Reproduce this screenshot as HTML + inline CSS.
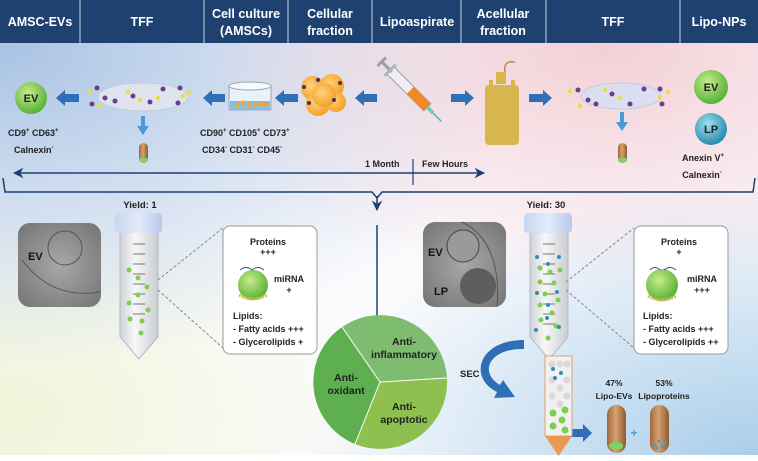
<!DOCTYPE html>
<html><head><meta charset="utf-8"><style>
html,body{margin:0;padding:0;background:#fff}
svg{display:block;font-family:"Liberation Sans",sans-serif;font-weight:bold}
</style></head><body>
<svg width="758" height="461" viewBox="0 0 758 461" xmlns="http://www.w3.org/2000/svg">
<defs>
<radialGradient id="bl" cx="0" cy="0.1" r="0.7"><stop offset="0" stop-color="#a9c3e4"/><stop offset="1" stop-color="#a9c3e4" stop-opacity="0"/></radialGradient>
<radialGradient id="pk" cx="0.8" cy="0.1" r="0.55"><stop offset="0" stop-color="#f3cfd6"/><stop offset="1" stop-color="#f3cfd6" stop-opacity="0"/></radialGradient>
<radialGradient id="br" cx="1" cy="1" r="0.6"><stop offset="0" stop-color="#a8cdea"/><stop offset="1" stop-color="#a8cdea" stop-opacity="0"/></radialGradient>
<radialGradient id="yl" cx="0" cy="0.9" r="0.5"><stop offset="0" stop-color="#f1f4d8"/><stop offset="1" stop-color="#f1f4d8" stop-opacity="0"/></radialGradient>
<radialGradient id="gEV" cx="0.4" cy="0.35" r="0.7"><stop offset="0" stop-color="#c8ec8a"/><stop offset="1" stop-color="#4fae34"/></radialGradient>
<radialGradient id="gLP" cx="0.4" cy="0.35" r="0.7"><stop offset="0" stop-color="#9fe0ec"/><stop offset="1" stop-color="#1f86a8"/></radialGradient>
<radialGradient id="cell" cx="0.4" cy="0.4" r="0.7"><stop offset="0" stop-color="#ffd27a"/><stop offset="1" stop-color="#f09a1c"/></radialGradient>
<radialGradient id="em" cx="0.5" cy="0.5" r="0.7"><stop offset="0" stop-color="#a8a8a8"/><stop offset="1" stop-color="#747474"/></radialGradient>
<linearGradient id="cap" x1="0" x2="1"><stop offset="0" stop-color="#c8d6f0"/><stop offset="0.5" stop-color="#e4ebfa"/><stop offset="1" stop-color="#b9c9ea"/></linearGradient>
<linearGradient id="tube" x1="0" x2="1"><stop offset="0" stop-color="#cfd3d8"/><stop offset="0.4" stop-color="#f7f7f7"/><stop offset="1" stop-color="#c9cdd2"/></linearGradient>
<linearGradient id="caps" x1="0" x2="1"><stop offset="0" stop-color="#9c6a3a"/><stop offset="0.45" stop-color="#d9a070"/><stop offset="1" stop-color="#8d5c30"/></linearGradient>
<marker id="ah" viewBox="0 0 10 10" refX="9" refY="5" markerWidth="7" markerHeight="7" orient="auto-start-reverse"><path d="M0,0L10,5L0,10L3,5z" fill="#1f3f73"/></marker>
</defs>
<rect width="758" height="461" fill="#fbfbfd"/>
<rect width="758" height="461" fill="url(#yl)"/>
<rect width="758" height="461" fill="url(#bl)"/>
<rect width="758" height="461" fill="url(#pk)"/>
<rect width="758" height="461" fill="url(#br)"/>
<rect y="455" width="758" height="6" fill="#fff"/>
<!-- header -->
<rect x="0" y="0" width="758" height="43" fill="#1e4170"/>
<g stroke="#c9d3e2" stroke-width="1"><line x1="80" y1="0" x2="80" y2="43"/><line x1="204" y1="0" x2="204" y2="43"/><line x1="288" y1="0" x2="288" y2="43"/><line x1="372" y1="0" x2="372" y2="43"/><line x1="461" y1="0" x2="461" y2="43"/><line x1="546" y1="0" x2="546" y2="43"/><line x1="680" y1="0" x2="680" y2="43"/></g>
<g fill="#fff" font-size="12.5" text-anchor="middle">
<text x="40" y="26">AMSC-EVs</text><text x="142" y="26">TFF</text>
<text x="246" y="18">Cell culture</text><text x="246" y="35">(AMSCs)</text>
<text x="330" y="18">Cellular</text><text x="330" y="35">fraction</text>
<text x="417" y="26">Lipoaspirate</text>
<text x="503" y="18">Acellular</text><text x="503" y="35">fraction</text>
<text x="613" y="26">TFF</text><text x="719" y="26">Lipo-NPs</text>
</g>
<!-- arrows blue block -->
<g fill="#2e6fb8">
<path d="M56,98 l9,-8 v4 h14 v8 h-14 v4z"/>
<path d="M203,98 l9,-8 v4 h13 v8 h-13 v4z"/>
<path d="M275,98 l9,-8 v4 h14 v8 h-14 v4z"/>
<path d="M355,98 l9,-8 v4 h13 v8 h-13 v4z"/>
<path d="M474,98 l-9,-8 v4 h-14 v8 h14 v4z"/>
<path d="M552,98 l-9,-8 v4 h-14 v8 h14 v4z"/>
<path d="M592,433 l-9,-9 v5 h-16 v8 h16 v5z"/>
</g>
<g fill="#4a9ad8"><path d="M141,116h4v10h4l-6,9l-6,-9h4z"/><path d="M620,112h4v10h4l-6,9l-6,-9h4z"/></g>
<!-- EV top left -->
<circle cx="31" cy="98" r="16" fill="url(#gEV)"/><text x="31" y="102" font-size="11" text-anchor="middle" fill="#222">EV</text>
<!-- TFF ellipses -->
<ellipse cx="143" cy="97" rx="45" ry="14" fill="#dfe3ee" stroke="#c4cbdb"/>
<ellipse cx="621" cy="96" rx="40" ry="13" fill="#d9dff0" stroke="#c4cbdb"/>
<g fill="#6a3d8f"><circle cx="97" cy="88" r="2.5"/><circle cx="105" cy="98" r="2.5"/><circle cx="115" cy="101" r="2.5"/><circle cx="133" cy="96" r="2.5"/><circle cx="163" cy="89" r="2.5"/><circle cx="180" cy="88" r="2.5"/><circle cx="178" cy="103" r="2.5"/><circle cx="150" cy="102" r="2.5"/><circle cx="92" cy="104" r="2.5"/>
<circle cx="578" cy="90" r="2.5"/><circle cx="588" cy="100" r="2.5"/><circle cx="596" cy="104" r="2.5"/><circle cx="612" cy="94" r="2.5"/><circle cx="644" cy="89" r="2.5"/><circle cx="660" cy="89" r="2.5"/><circle cx="662" cy="104" r="2.5"/><circle cx="630" cy="104" r="2.5"/></g>
<g fill="#e8e03a"><circle cx="90" cy="92" r="2.2"/><circle cx="100" cy="106" r="2.2"/><circle cx="128" cy="92" r="2.2"/><circle cx="140" cy="100" r="2.2"/><circle cx="158" cy="98" r="2.2"/><circle cx="183" cy="96" r="2.2"/><circle cx="189" cy="92" r="2.2"/>
<circle cx="570" cy="91" r="2.2"/><circle cx="580" cy="106" r="2.2"/><circle cx="605" cy="90" r="2.2"/><circle cx="620" cy="98" r="2.2"/><circle cx="660" cy="97" r="2.2"/><circle cx="668" cy="92" r="2.2"/></g>
<!-- tubes small -->
<rect x="139" y="143" width="9" height="20" rx="4.5" fill="url(#caps)"/><rect x="139" y="158" width="9" height="4" rx="2" fill="#7bd36a"/>
<rect x="618" y="143" width="9" height="20" rx="4.5" fill="url(#caps)"/><rect x="618" y="158" width="9" height="4" rx="2" fill="#7bd36a"/>
<!-- petri -->
<rect x="229" y="86" width="42" height="24" fill="#e9f2fa" stroke="#9aa6b2"/><ellipse cx="250" cy="86" rx="21" ry="4" fill="#f7fbff" stroke="#9aa6b2"/>
<rect x="230" y="101" width="40" height="9" fill="#7fc2e6"/>
<g fill="#f3a33a"><circle cx="237" cy="105" r="2.5"/><circle cx="243" cy="103" r="2.5"/><circle cx="249" cy="106" r="2.5"/><circle cx="255" cy="104" r="2.5"/><circle cx="261" cy="105" r="2.5"/><circle cx="266" cy="104" r="2.5"/></g>
<!-- cells -->
<g fill="url(#cell)"><circle cx="313" cy="88" r="12"/><circle cx="332" cy="86" r="12"/><circle cx="318" cy="104" r="12"/><circle cx="336" cy="102" r="10"/><circle cx="324" cy="95" r="12"/></g>
<g fill="#4a2f5c"><circle cx="304" cy="87" r="2"/><circle cx="318" cy="80" r="2"/><circle cx="340" cy="83" r="2"/><circle cx="309" cy="103" r="2"/><circle cx="334" cy="100" r="2"/></g>
<!-- syringe -->
<g transform="translate(416,96) rotate(45)">
<rect x="-36" y="-5" width="52" height="10" fill="#eef0f3" stroke="#9aa0a8"/>
<rect x="-8" y="-5" width="24" height="10" fill="#f08a28"/>
<rect x="-48" y="-1.5" width="14" height="3" fill="#9aa0a8"/><rect x="-50" y="-6" width="3" height="12" fill="#9aa0a8"/>
<rect x="-38" y="-8" width="3" height="16" fill="#b0b5bc"/>
<rect x="16" y="-2" width="8" height="4" fill="#7acfc0"/><line x1="24" y1="0" x2="36" y2="0" stroke="#4db8b0" stroke-width="1.5"/>
</g>
<!-- bag -->
<path d="M505,72 q-2,-12 10,-10" fill="none" stroke="#b88b4a" stroke-width="1.5"/>
<rect x="496" y="72" width="10" height="12" fill="#d8b64e"/>
<rect x="489" y="80" width="4" height="8" fill="#d8b64e"/><rect x="511" y="80" width="4" height="8" fill="#d8b64e"/>
<rect x="485" y="85" width="34" height="60" rx="4" fill="#d8b64e"/>
<!-- EV / LP right -->
<circle cx="711" cy="87" r="17" fill="url(#gEV)"/><text x="711" y="91" font-size="11" text-anchor="middle" fill="#222">EV</text>
<circle cx="711" cy="129" r="16" fill="url(#gLP)"/><text x="711" y="133" font-size="11" text-anchor="middle" fill="#222">LP</text>
<!-- marker texts -->
<g font-size="9" fill="#222">
<text x="8" y="136">CD9<tspan dy="-4" font-size="6">+</tspan><tspan dy="4"> CD63</tspan><tspan dy="-4" font-size="6">+</tspan></text>
<text x="14" y="153">Calnexin<tspan dy="-4" font-size="6">-</tspan></text>
<text x="200" y="136">CD90<tspan dy="-4" font-size="6">+</tspan><tspan dy="4"> CD105</tspan><tspan dy="-4" font-size="6">+</tspan><tspan dy="4"> CD73</tspan><tspan dy="-4" font-size="6">+</tspan></text>
<text x="202" y="153">CD34<tspan dy="-4" font-size="6">-</tspan><tspan dy="4">   CD31</tspan><tspan dy="-4" font-size="6">-</tspan><tspan dy="4">  CD45</tspan><tspan dy="-4" font-size="6">-</tspan></text>
<text x="703" y="161" text-anchor="middle">Anexin V<tspan dy="-4" font-size="6">+</tspan></text>
<text x="702" y="178" text-anchor="middle">Calnexin<tspan dy="-4" font-size="6">-</tspan></text>
<text x="365" y="167">1 Month</text><text x="422" y="167">Few Hours</text>
</g>
<!-- timeline -->
<line x1="14" y1="173" x2="484" y2="173" stroke="#1f3f73" stroke-width="1.5" marker-start="url(#ah)" marker-end="url(#ah)"/>
<line x1="413" y1="159" x2="413" y2="185" stroke="#1f3f73" stroke-width="1.2"/>
<path d="M3,178 L5,192 L372,192 L377,198 L382,192 L753,192 L755,178" fill="none" stroke="#1f3f73" stroke-width="1.5"/>
<line x1="377" y1="196" x2="377" y2="210" stroke="#1f3f73" stroke-width="1.5" marker-end="url(#ah)"/>
<line x1="377" y1="225" x2="377" y2="316" stroke="#1f3f73" stroke-width="1.5"/>
<!-- EM images -->
<rect x="18" y="223" width="83" height="84" rx="12" fill="url(#em)"/>
<circle cx="65" cy="248" r="17" fill="none" stroke="#555" stroke-width="1"/>
<path d="M22,260 q30,40 78,32" fill="none" stroke="#555"/>
<text x="28" y="260" font-size="11" fill="#111">EV</text>
<rect x="423" y="222" width="83" height="85" rx="12" fill="url(#em)"/>
<circle cx="463" cy="246" r="16" fill="#9a9a9a" stroke="#444"/>
<circle cx="478" cy="286" r="18" fill="#5e5e5e"/>
<path d="M462,222 q40,20 35,85" fill="none" stroke="#555"/>
<text x="428" y="256" font-size="11" fill="#111">EV</text><text x="434" y="295" font-size="11" fill="#111">LP</text>
<!-- tubes big -->
<g>
<path d="M120,232 h38 v105 l-19,22 l-19,-22z" fill="url(#tube)" stroke="#b5bac2"/>
<rect x="115" y="213" width="47" height="20" rx="4" fill="url(#cap)"/>
<path d="M530,232 h38 v105 l-19,22 l-19,-22z" fill="url(#tube)" stroke="#b5bac2"/>
<rect x="524" y="213" width="48" height="20" rx="4" fill="url(#cap)"/>
<g stroke="#777" stroke-width="1"><line x1="133" y1="244" x2="145" y2="244"/><line x1="133" y1="254" x2="145" y2="254"/><line x1="133" y1="264" x2="145" y2="264"/><line x1="133" y1="274" x2="145" y2="274"/><line x1="133" y1="284" x2="145" y2="284"/><line x1="133" y1="294" x2="145" y2="294"/><line x1="133" y1="304" x2="145" y2="304"/><line x1="133" y1="314" x2="145" y2="314"/>
<line x1="543" y1="244" x2="555" y2="244"/><line x1="543" y1="254" x2="555" y2="254"/><line x1="543" y1="264" x2="555" y2="264"/><line x1="543" y1="274" x2="555" y2="274"/><line x1="543" y1="284" x2="555" y2="284"/><line x1="543" y1="294" x2="555" y2="294"/><line x1="543" y1="304" x2="555" y2="304"/><line x1="543" y1="314" x2="555" y2="314"/><line x1="543" y1="324" x2="555" y2="324"/></g>
<g fill="#7fcf4f"><circle cx="129" cy="270" r="2.5"/><circle cx="138" cy="278" r="2.5"/><circle cx="147" cy="287" r="2.5"/><circle cx="138" cy="295" r="2.5"/><circle cx="129" cy="303" r="2.5"/><circle cx="148" cy="310" r="2.5"/><circle cx="130" cy="319" r="2.5"/><circle cx="142" cy="321" r="2.5"/><circle cx="141" cy="333" r="2.5"/>
<circle cx="540" cy="268" r="2.5"/><circle cx="550" cy="272" r="2.5"/><circle cx="560" cy="270" r="2.5"/><circle cx="540" cy="282" r="2.5"/><circle cx="554" cy="283" r="2.5"/><circle cx="545" cy="294" r="2.5"/><circle cx="558" cy="300" r="2.5"/><circle cx="540" cy="305" r="2.5"/><circle cx="552" cy="313" r="2.5"/><circle cx="541" cy="320" r="2.5"/><circle cx="556" cy="326" r="2.5"/><circle cx="548" cy="338" r="2.5"/></g>
<g fill="#2f8fb0"><circle cx="537" cy="257" r="2"/><circle cx="559" cy="257" r="2"/><circle cx="548" cy="264" r="2"/><circle cx="537" cy="293" r="2"/><circle cx="557" cy="292" r="2"/><circle cx="548" cy="305" r="2"/><circle cx="547" cy="318" r="2"/><circle cx="559" cy="327" r="2"/><circle cx="536" cy="330" r="2"/></g>
</g>
<text x="140" y="208" font-size="9.5" text-anchor="middle" fill="#222">Yield: 1</text>
<text x="546" y="208" font-size="9.5" text-anchor="middle" fill="#222">Yield: 30</text>
<!-- dashed -->
<g stroke="#888" stroke-dasharray="3,2" fill="none"><path d="M158,280 L223,228 M158,290 L223,348"/><path d="M566,282 L634,228 M566,290 L634,348"/></g>
<!-- boxes -->
<rect x="223" y="226" width="94" height="128" rx="7" fill="#fff" stroke="#999"/>
<rect x="634" y="226" width="94" height="128" rx="7" fill="#fff" stroke="#999"/>
<g font-size="9" fill="#222">
<text x="268" y="245" text-anchor="middle">Proteins</text><text x="268" y="255" text-anchor="middle">+++</text>
<text x="289" y="282" text-anchor="middle">miRNA</text><text x="289" y="293" text-anchor="middle">+</text>
<text x="233" y="319">Lipids:</text><text x="233" y="332">- Fatty acids +++</text><text x="233" y="345">- Glycerolipids +</text>
<text x="679" y="245" text-anchor="middle">Proteins</text><text x="679" y="255" text-anchor="middle">+</text>
<text x="702" y="282" text-anchor="middle">miRNA</text><text x="702" y="293" text-anchor="middle">+++</text>
<text x="643" y="319">Lipids:</text><text x="643" y="332">- Fatty acids +++</text><text x="643" y="345">- Glycerolipids ++</text>
</g>
<circle cx="253" cy="285" r="15" fill="url(#gEV)"/><path d="M240,270 q6,-5 12,0 q6,-5 12,0" fill="none" stroke="#3a55a0"/><path d="M239,295 q14,8 28,0" fill="none" stroke="#e3b84a" stroke-width="3" stroke-dasharray="2,1"/>
<circle cx="662" cy="285" r="16" fill="url(#gEV)"/><path d="M650,270 q5,-5 10,0 M664,270 q6,-5 12,0" fill="none" stroke="#3a55a0"/><path d="M648,296 q14,8 28,0" fill="none" stroke="#e3b84a" stroke-width="3" stroke-dasharray="2,1"/>
<!-- pie -->
<g>
<path d="M380,382 L342,327 A67,67 0 0 1 447,378 Z" fill="#7ebd6f"/>
<path d="M380,382 L447,378 A67,67 0 0 1 355,444 Z" fill="#8dc04f"/>
<path d="M380,382 L355,444 A67,67 0 0 1 342,327 Z" fill="#5eaf4f"/>
<g stroke="#fff" stroke-width="1"><line x1="380" y1="382" x2="342" y2="327"/><line x1="380" y1="382" x2="447" y2="378"/><line x1="380" y1="382" x2="355" y2="444"/></g>
<g font-size="10.5" fill="#222" text-anchor="middle">
<text x="404" y="345">Anti-</text><text x="404" y="358">inflammatory</text>
<text x="346" y="381">Anti-</text><text x="346" y="394">oxidant</text>
<text x="404" y="410">Anti-</text><text x="404" y="423">apoptotic</text></g>
</g>
<!-- SEC arrow -->
<path d="M524,349 C490,348 478,372 500,385 L503,380 L515,397 L494,398 L497,392 C468,378 478,340 524,340 Z" fill="#2e6fb8"/>
<text x="460" y="377" font-size="9.5" fill="#222">SEC</text>
<!-- column -->
<rect x="545" y="356" width="27" height="80" fill="#f1f1f1" stroke="#e0a070"/>
<path d="M545,436 h27 l-13.5,20z" fill="#e89a50"/>
<g fill="#d9d9d9"><circle cx="552" cy="364" r="3.5"/><circle cx="560" cy="364" r="3.5"/><circle cx="567" cy="364" r="3.5"/><circle cx="552" cy="380" r="3.5"/><circle cx="560" cy="388" r="3.5"/><circle cx="567" cy="380" r="3.5"/><circle cx="552" cy="396" r="3.5"/><circle cx="567" cy="396" r="3.5"/><circle cx="560" cy="404" r="3.5"/></g>
<g fill="#7fcf4f"><circle cx="553" cy="413" r="3.5"/><circle cx="565" cy="410" r="3.5"/><circle cx="553" cy="426" r="3.5"/><circle cx="562" cy="420" r="3.5"/><circle cx="565" cy="430" r="3.5"/></g>
<g fill="#2f8fb0"><circle cx="553" cy="369" r="2"/><circle cx="561" cy="373" r="2"/><circle cx="555" cy="378" r="2"/></g>
<!-- capsules -->
<rect x="607" y="405" width="19" height="48" rx="9.5" fill="url(#caps)"/><ellipse cx="616" cy="446" rx="7" ry="4" fill="#7bd36a"/>
<rect x="650" y="405" width="19" height="48" rx="9.5" fill="url(#caps)"/>
<g fill="#3aa0c8"><circle cx="655" cy="445" r="1.5"/><circle cx="659" cy="441" r="1.5"/><circle cx="662" cy="446" r="1.5"/><circle cx="657" cy="448" r="1.5"/><circle cx="665" cy="443" r="1.5"/></g>
<text x="634" y="437" font-size="12" fill="#3aa0d8" text-anchor="middle">+</text>
<g font-size="8.5" fill="#222" text-anchor="middle"><text x="614" y="386">47%</text><text x="614" y="399">Lipo-EVs</text><text x="664" y="386">53%</text><text x="664" y="399">Lipoproteins</text></g>
</svg>
</body></html>
